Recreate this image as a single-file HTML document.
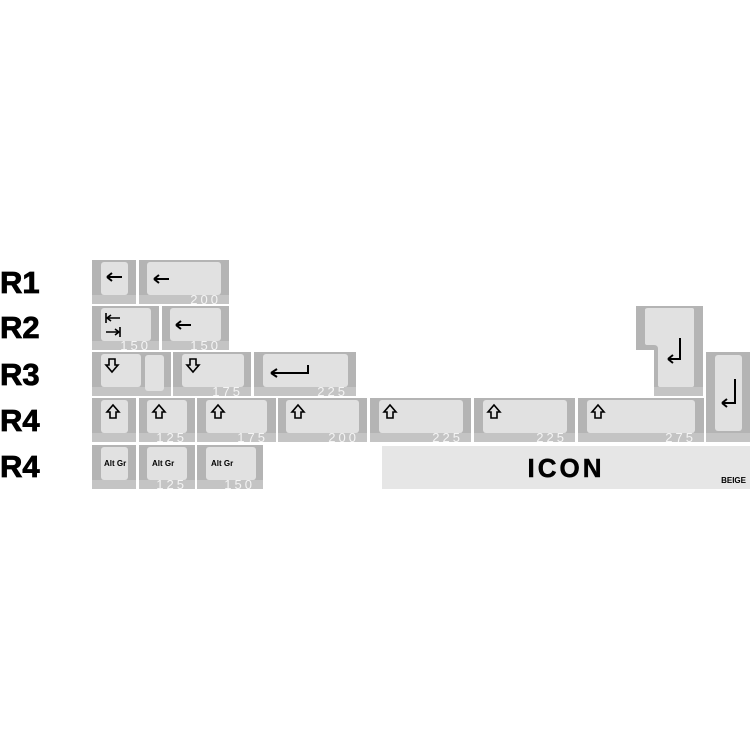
<!DOCTYPE html><html><head><style>
body{margin:0;width:750px;height:750px;background:#fff;position:relative;overflow:hidden;font-family:"Liberation Sans",sans-serif}
.k{position:absolute;background:#b4b4b4;box-sizing:border-box}
.k:after{content:"";position:absolute;left:0;right:0;bottom:0;height:9px;background:#c4c4c4}
.c{position:absolute;background:#e1e1e1;border-radius:3px;z-index:1;color:#000}
.n{position:absolute;right:8px;bottom:-2px;color:#f4f4f4;font-size:13px;line-height:13px;letter-spacing:3px;z-index:2}
.r{position:absolute;left:0;font-weight:bold;font-size:31px;line-height:30px;-webkit-text-stroke:0.8px #000}
.ag{position:absolute;left:5px;top:12px;font-size:8px;font-weight:bold;white-space:nowrap}
svg{position:absolute;overflow:visible}
</style></head><body>
<div class="r" style="top:268px">R1</div>
<div class="r" style="top:313px">R2</div>
<div class="r" style="top:360px">R3</div>
<div class="r" style="top:406px">R4</div>
<div class="r" style="top:452px">R4</div>

<!-- row1 -->
<div class="k" style="left:92px;top:260px;width:44px;height:44px"><div class="c" style="left:9px;top:2px;width:27px;height:33px"><svg style="left:5px;top:10px" width="16" height="10"><path d="M1 5H16M1 5L6 1M1 5L6 9" stroke="#000" stroke-width="2" fill="none"/></svg></div></div>
<div class="k" style="left:139px;top:260px;width:90px;height:44px"><div class="c" style="left:8px;top:2px;width:74px;height:33px"><svg style="left:6px;top:12px" width="16" height="10"><path d="M1 5H16M1 5L6 1M1 5L6 9" stroke="#000" stroke-width="2" fill="none"/></svg></div><span class="n">200</span></div>
<!-- row2 -->
<div class="k" style="left:92px;top:306px;width:67px;height:44px"><div class="c" style="left:9px;top:2px;width:50px;height:33px">
<svg style="left:4px;top:5px" width="16" height="10"><path d="M1 0V10M2 5H15M2 5L6 2M2 5L6 8" stroke="#000" stroke-width="1.6" fill="none"/></svg>
<svg style="left:4px;top:19px" width="16" height="10"><path d="M15 0V10M1 5H14M14 5L10 2M14 5L10 8" stroke="#000" stroke-width="1.6" fill="none"/></svg></div><span class="n">150</span></div>
<div class="k" style="left:162px;top:306px;width:67px;height:44px"><div class="c" style="left:8px;top:2px;width:51px;height:33px"><svg style="left:5px;top:12px" width="16" height="10"><path d="M1 5H16M1 5L6 1M1 5L6 9" stroke="#000" stroke-width="2" fill="none"/></svg></div><span class="n">150</span></div>
<!-- row3 -->
<div class="k" style="left:92px;top:352px;width:79px;height:44px"><div class="c" style="left:9px;top:2px;width:40px;height:33px"><svg style="left:4px;top:4px" width="14" height="15"><path d="M4 1H10V7H13L7 14L1 7H4Z" stroke="#000" stroke-width="1.6" fill="none"/></svg></div><div class="c" style="left:53px;top:3px;width:19px;height:36px"></div></div>
<div class="k" style="left:173px;top:352px;width:78px;height:44px"><div class="c" style="left:9px;top:2px;width:62px;height:33px"><svg style="left:4px;top:4px" width="14" height="15"><path d="M4 1H10V7H13L7 14L1 7H4Z" stroke="#000" stroke-width="1.6" fill="none"/></svg></div><span class="n">175</span></div>
<div class="k" style="left:254px;top:352px;width:102px;height:44px"><div class="c" style="left:9px;top:2px;width:85px;height:33px"><svg style="left:6px;top:11px" width="40" height="12"><path d="M39 0V8H2M2 8L8 4M2 8L8 12" stroke="#000" stroke-width="2" fill="none"/></svg></div><span class="n">225</span></div>
<!-- row4 -->
<div class="k" style="left:92px;top:398px;width:44px;height:44px"><div class="c" style="left:9px;top:2px;width:27px;height:33px"><svg style="left:5px;top:4px" width="14" height="15"><path d="M4 14H10V8H13L7 1L1 8H4Z" stroke="#000" stroke-width="1.6" fill="none"/></svg></div></div>
<div class="k" style="left:139px;top:398px;width:56px;height:44px"><div class="c" style="left:8px;top:2px;width:40px;height:33px"><svg style="left:5px;top:4px" width="14" height="15"><path d="M4 14H10V8H13L7 1L1 8H4Z" stroke="#000" stroke-width="1.6" fill="none"/></svg></div><span class="n">125</span></div>
<div class="k" style="left:197px;top:398px;width:79px;height:44px"><div class="c" style="left:9px;top:2px;width:61px;height:33px"><svg style="left:5px;top:4px" width="14" height="15"><path d="M4 14H10V8H13L7 1L1 8H4Z" stroke="#000" stroke-width="1.6" fill="none"/></svg></div><span class="n">175</span></div>
<div class="k" style="left:278px;top:398px;width:89px;height:44px"><div class="c" style="left:8px;top:2px;width:73px;height:33px"><svg style="left:5px;top:4px" width="14" height="15"><path d="M4 14H10V8H13L7 1L1 8H4Z" stroke="#000" stroke-width="1.6" fill="none"/></svg></div><span class="n">200</span></div>
<div class="k" style="left:370px;top:398px;width:101px;height:44px"><div class="c" style="left:9px;top:2px;width:84px;height:33px"><svg style="left:4px;top:4px" width="14" height="15"><path d="M4 14H10V8H13L7 1L1 8H4Z" stroke="#000" stroke-width="1.6" fill="none"/></svg></div><span class="n">225</span></div>
<div class="k" style="left:474px;top:398px;width:101px;height:44px"><div class="c" style="left:9px;top:2px;width:84px;height:33px"><svg style="left:4px;top:4px" width="14" height="15"><path d="M4 14H10V8H13L7 1L1 8H4Z" stroke="#000" stroke-width="1.6" fill="none"/></svg></div><span class="n">225</span></div>
<div class="k" style="left:578px;top:398px;width:126px;height:44px"><div class="c" style="left:9px;top:2px;width:108px;height:33px"><svg style="left:4px;top:4px" width="14" height="15"><path d="M4 14H10V8H13L7 1L1 8H4Z" stroke="#000" stroke-width="1.6" fill="none"/></svg></div><span class="n">275</span></div>
<!-- ISO enter -->
<svg style="left:0;top:0" width="750" height="750">
<polygon points="636,306 703,306 703,396 654,396 654,350 636,350" fill="#b4b4b4"/>
<polygon points="654,387 703,387 703,396 654,396" fill="#c4c4c4"/>
<path d="M648,308 H692 Q694,308 694,310 V385 Q694,387 692,387 H660 Q658,387 658,385 V349 Q658,345 654,345 H647 Q645,345 645,343 V310 Q645,308 648,308Z" fill="#e1e1e1"/>
<path d="M680,338 V359 H668 M668,359 L673,355 M668,359 L673,363" stroke="#000" stroke-width="2" fill="none"/>
</svg>
<!-- tall enter -->
<div class="k" style="left:706px;top:352px;width:44px;height:90px"><div class="c" style="left:9px;top:3px;width:27px;height:76px"><svg style="left:5px;top:24px" width="16" height="26"><path d="M15 0V24H2M2 24L7 20M2 24L7 28" stroke="#000" stroke-width="2" fill="none"/></svg></div></div>
<!-- row5 -->
<div class="k" style="left:92px;top:445px;width:44px;height:44px"><div class="c" style="left:9px;top:2px;width:27px;height:33px"><span class="ag" style="left:3px">Alt Gr</span></div></div>
<div class="k" style="left:139px;top:445px;width:56px;height:44px"><div class="c" style="left:8px;top:2px;width:40px;height:33px"><span class="ag">Alt Gr</span></div><span class="n">125</span></div>
<div class="k" style="left:197px;top:445px;width:66px;height:44px"><div class="c" style="left:9px;top:2px;width:50px;height:33px"><span class="ag">Alt Gr</span></div><span class="n">150</span></div>
<div style="position:absolute;left:382px;top:446px;width:368px;height:43px;background:#e6e6e6">
<div style="position:absolute;left:0;right:0;top:7px;text-align:center;font-weight:bold;font-size:26px;letter-spacing:3px;-webkit-text-stroke:0.5px #000">ICON</div>
<div style="position:absolute;right:4px;bottom:4px;font-weight:bold;font-size:8px">BEIGE</div></div>
</body></html>
